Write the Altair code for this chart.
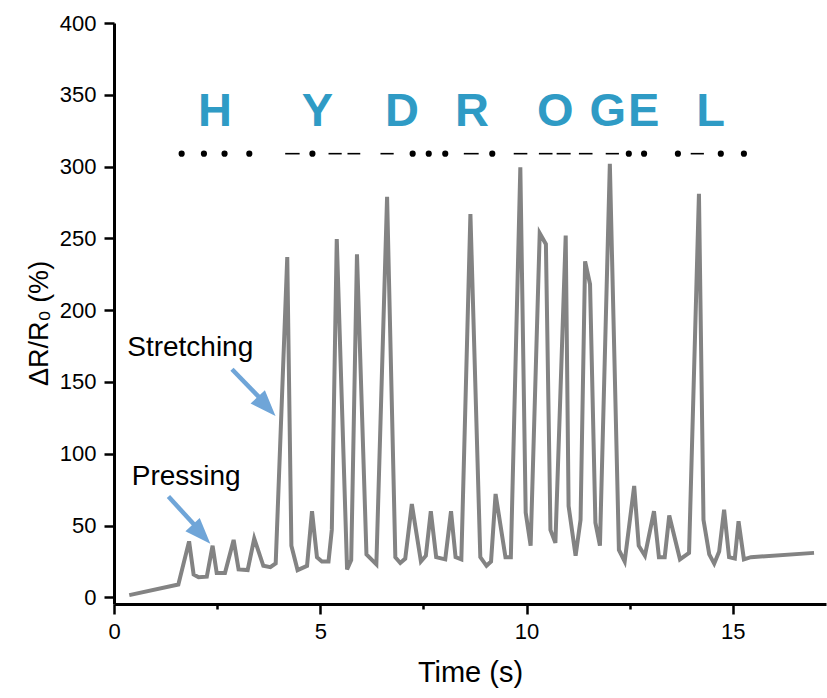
import altair as alt
import pandas as pd

# ---------------- data ----------------
time_s = [0.37, 1.56, 1.82, 1.93, 2.05, 2.25, 2.39, 2.49, 2.69, 2.9,
          3.02, 3.24, 3.4, 3.62, 3.79, 3.92, 4.2, 4.3, 4.45, 4.68,
          4.8, 4.92, 5.04, 5.2, 5.28, 5.4, 5.65, 5.75, 5.89, 6.12,
          6.36, 6.62, 6.82, 6.94, 7.06, 7.22, 7.44, 7.56, 7.68, 7.81,
          8.03, 8.17, 8.28, 8.42, 8.64, 8.88, 9.03, 9.14, 9.25, 9.49,
          9.62, 9.85, 9.98, 10.1, 10.32, 10.47, 10.58, 10.7, 10.95, 11.02,
          11.19, 11.31, 11.42, 11.54, 11.67, 11.78, 12.02, 12.24, 12.38, 12.61,
          12.72, 12.87, 13.09, 13.21, 13.35, 13.46, 13.72, 13.94, 14.18, 14.29,
          14.43, 14.55, 14.67, 14.79, 14.91, 15.05, 15.14, 15.27, 15.44, 16.97]
delta_r = [1.6, 9, 39, 16, 14, 14.4, 36, 17, 17, 40,
           19.5, 19, 41, 22, 21, 23.7, 237, 36, 19, 22,
           60, 28, 25, 25, 47, 249.5, 19.5, 26, 239, 30,
           23, 279, 28, 24, 27, 65, 25, 29, 60, 28,
           26.5, 60, 28, 26.5, 267, 28, 22, 25, 72, 28,
           28, 299.5, 59, 36, 253.6, 246, 47, 38, 252, 63.6,
           29, 54, 234, 218, 52, 36, 302, 33, 25, 77.6,
           36, 29, 60, 28, 28, 57, 26.5, 31, 281, 54,
           30, 23.5, 32, 61, 28, 27, 53, 26.5, 28, 31]
assert len(time_s) == len(delta_r)

# Morse code symbols
morse_level = 309
dot_times = [1.64, 2.18, 2.68, 3.28, 4.81, 7.24, 7.63, 8.03, 9.17,
             12.48, 12.85, 13.67, 14.71, 15.27]
dash_start = [4.15, 5.20, 5.66, 6.46, 8.48, 9.69, 10.30, 10.73, 11.27, 11.92, 13.98]
dash_end = [4.50, 5.52, 5.97, 6.78, 8.84, 10.02, 10.63, 11.07, 11.60, 12.24, 14.30]

# Letters
letters = ["H", "Y", "D", "R", "O", "G", "E", "L"]
letter_t = [2.45, 4.93, 6.98, 8.68, 10.70, 11.97, 12.84, 14.46]
letter_level = 328

# Annotations
note_text = ["Pressing", "Stretching"]
note_t = [0.43, 0.32]
note_v = [78.5, 168]
arrow_t0 = [1.32, 2.86]
arrow_v0 = [70.2, 158.9]
arrow_t1 = [2.03, 3.60]
arrow_v1 = [48.0, 137.0]
head_t = [2.12, 3.70]
head_v = [44.0, 133.0]

# ---------------- chart ----------------
FONT = "Liberation Sans"
X_DOM = [0, 17.26]
Y_DOM = [-4.6, 400]
xs = alt.Scale(domain=X_DOM, nice=False, zero=False)
ys = alt.Scale(domain=Y_DOM, nice=False, zero=False)

line_df = pd.DataFrame({"t": time_s, "v": delta_r})
dots_df = pd.DataFrame({"t": dot_times, "v": [morse_level] * len(dot_times)})
dash_df = pd.DataFrame({"t0": dash_start, "t1": dash_end, "v": [morse_level] * len(dash_start)})
let_df = pd.DataFrame({"t": letter_t, "v": [letter_level] * len(letters), "s": letters})
note_df = pd.DataFrame({"t": note_t, "v": note_v, "s": note_text})
arrow_df = pd.DataFrame({"t0": arrow_t0, "v0": arrow_v0, "t1": arrow_t1, "v1": arrow_v1})
head_df = pd.DataFrame({"t": head_t, "v": head_v})

x_axis = alt.Axis(
    title="Time (s)",
    values=[0, 2.5, 5, 7.5, 10, 12.5, 15],
    labelExpr="datum.value % 5 === 0 ? datum.label : ''",
    tickSize={"condition": {"test": "datum.value % 5 === 0", "value": 10}, "value": 5},
    grid=False,
    labelFlush=False,
    labelPadding=7,
    titlePadding=16,
    titleFontSize=29,
)
y_axis = alt.Axis(
    title="ΔR/R₀ (%)",
    values=list(range(0, 401, 25)),
    labelExpr="datum.value % 50 === 0 ? datum.label : ''",
    tickSize={"condition": {"test": "datum.value % 50 === 0", "value": 10}, "value": 5},
    grid=False,
    labelFlush=False,
    labelPadding=8,
    titlePadding=6,
    titleFontSize=27,
    titleY=300,
)

base_line = alt.Chart(line_df).mark_line(color="#838383", strokeWidth=4, strokeJoin="miter").encode(
    x=alt.X("t:Q", scale=xs, axis=x_axis),
    y=alt.Y("v:Q", scale=ys, axis=y_axis),
)

dots = alt.Chart(dots_df).mark_point(filled=True, color="black", size=38, opacity=1, shape="circle").encode(
    x=alt.X("t:Q", scale=xs), y=alt.Y("v:Q", scale=ys)
)
dashes = alt.Chart(dash_df).mark_rule(color="black", strokeWidth=1.6).encode(
    x=alt.X("t0:Q", scale=xs), x2="t1:Q", y=alt.Y("v:Q", scale=ys)
)
letters_layer = alt.Chart(let_df).mark_text(
    font=FONT, fontSize=47, fontWeight="bold", color="#2F9BC5", baseline="alphabetic", align="center"
).encode(x=alt.X("t:Q", scale=xs), y=alt.Y("v:Q", scale=ys), text="s:N")

notes = alt.Chart(note_df).mark_text(
    font=FONT, fontSize=28, color="black", baseline="alphabetic", align="left"
).encode(x=alt.X("t:Q", scale=xs), y=alt.Y("v:Q", scale=ys), text="s:N")

arrows = alt.Chart(arrow_df).mark_rule(color="#6FA5D8", strokeWidth=4.5).encode(
    x=alt.X("t0:Q", scale=xs), y=alt.Y("v0:Q", scale=ys), x2="t1:Q", y2="v1:Q"
)
heads = alt.Chart(head_df).mark_point(
    filled=True, color="#6FA5D8", opacity=1, size=680,
    shape="M0,-1L-0.75,1L0.75,1Z", angle=137,
).encode(x=alt.X("t:Q", scale=xs), y=alt.Y("v:Q", scale=ys))

chart = alt.layer(base_line, dashes, dots, letters_layer, notes, arrows, heads).properties(
    width=712,
    height=581,
    autosize="none",
    padding={"left": 114, "top": 23, "right": 1, "bottom": 94},
).configure_view(stroke=None).configure_axis(
    domainColor="black",
    domainWidth=3,
    tickColor="black",
    tickWidth=2.5,
    labelFont=FONT,
    labelFontSize=22,
    labelColor="black",
    titleFont=FONT,
    titleFontWeight="normal",
    titleColor="black",
)

chart.save("out.html", embed_options={"renderer": "svg", "actions": False})
